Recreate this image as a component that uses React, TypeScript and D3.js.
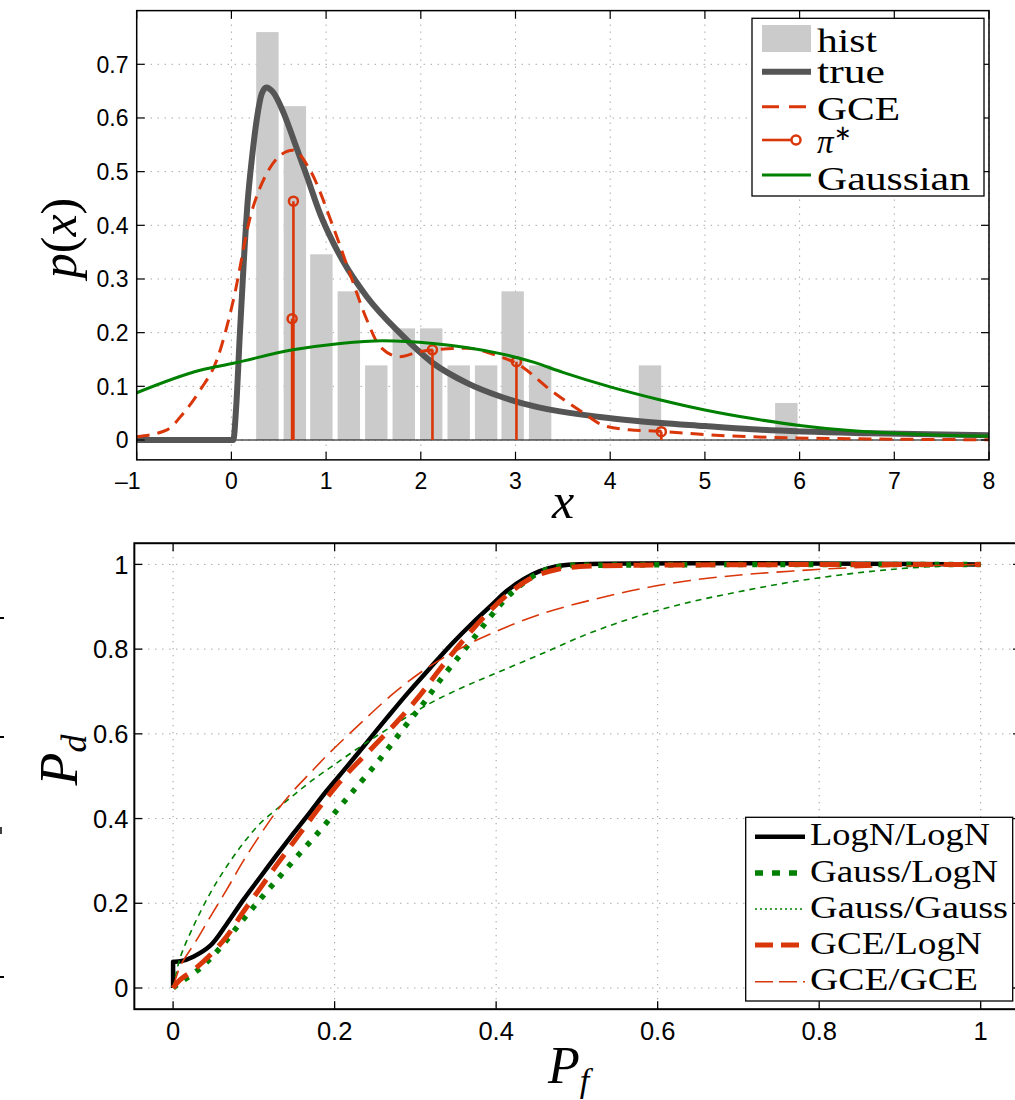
import React from 'react';
import * as d3 from 'd3';

// ---------- Top panel data ----------
const xTicksTop = [-1, 0, 1, 2, 3, 4, 5, 6, 7, 8];
const yTicksTop = [0, 0.1, 0.2, 0.3, 0.4, 0.5, 0.6, 0.7];
const histCenters = [0.38, 0.67, 0.95, 1.24, 1.53, 1.82, 2.11, 2.40, 2.69, 2.97, 3.26, 3.55, 3.84, 4.13, 4.42, 4.70, 4.99, 5.28, 5.57, 5.86];
const histDensity = [0.76, 0.622, 0.346, 0.277, 0.139, 0.208, 0.208, 0.139, 0.139, 0.277, 0.139, 0, 0, 0, 0.139, 0, 0, 0, 0, 0.069];
const histBinWidth = 0.2886;

const trueCurve: [number, number][] = [
  [-1, 0], [0.02, 0], [0.05, 0.06], [0.09, 0.2], [0.13, 0.33], [0.17, 0.44], [0.22, 0.53],
  [0.27, 0.6], [0.32, 0.645], [0.37, 0.657], [0.44, 0.648], [0.55, 0.61], [0.66, 0.558],
  [0.8, 0.49], [0.94, 0.42], [1.08, 0.366], [1.18, 0.333], [1.43, 0.267], [1.78, 0.199],
  [2.13, 0.143], [2.49, 0.106], [2.84, 0.081], [3.19, 0.063], [3.89, 0.043], [4.26, 0.036],
  [5.0, 0.026], [5.5, 0.02], [6.74, 0.0125], [8.0, 0.009],
];
const gceCurve: [number, number][] = [
  [-1, 0.006], [-0.68, 0.019], [-0.507, 0.05], [-0.33, 0.093], [-0.154, 0.149], [0.02, 0.26],
  [0.2, 0.416], [0.374, 0.497], [0.5, 0.528], [0.65, 0.54], [0.83, 0.503], [1.075, 0.397],
  [1.25, 0.311], [1.43, 0.224], [1.57, 0.174], [1.78, 0.155], [1.99, 0.165], [2.13, 0.168],
  [2.49, 0.171], [2.84, 0.155], [3.01, 0.143], [3.37, 0.093], [3.72, 0.05], [3.93, 0.027],
  [4.2, 0.019], [4.55, 0.016], [5.0, 0.01], [5.5, 0.006], [6.74, 0.002], [8, 0.0005],
];
const gaussCurve: [number, number][] = [
  [-1, 0.088], [-0.33, 0.13], [0.02, 0.143], [0.65, 0.168], [1.15, 0.18], [1.6, 0.185],
  [2.13, 0.18], [2.84, 0.161], [3.19, 0.145], [3.5, 0.126], [4.0, 0.099], [4.5, 0.076],
  [5.0, 0.056], [5.5, 0.04], [6.0, 0.027], [6.5, 0.018], [7.0, 0.0125], [7.5, 0.009], [8.0, 0.0075],
];
const piStems: [number, number][] = [
  [0.655, 0.445], [0.641, 0.226], [2.123, 0.168], [3.01, 0.146], [4.54, 0.0155],
];
const topLegend = ['hist', 'true', 'GCE', 'π*', 'Gaussian'];

// ---------- Bottom panel data ----------
const ticksBot = [0, 0.2, 0.4, 0.6, 0.8, 1];
const rocLogNLogN: [number, number][] = [
  [0, 0], [0, 0.062], [0.009, 0.063], [0.025, 0.074], [0.046, 0.1], [0.066, 0.15], [0.087, 0.208],
  [0.108, 0.262], [0.128, 0.313], [0.149, 0.365], [0.17, 0.416], [0.19, 0.465], [0.215, 0.522],
  [0.24, 0.58], [0.2645, 0.637], [0.29, 0.695], [0.318, 0.755], [0.345, 0.812], [0.372, 0.864],
  [0.395, 0.905], [0.413, 0.937], [0.435, 0.966], [0.454, 0.984], [0.475, 0.996], [0.496, 1.0], [1, 1],
];
const rocGaussLogN: [number, number][] = [
  [0, 0], [0.0045, 0.007], [0.033, 0.046], [0.058, 0.094], [0.083, 0.153], [0.108, 0.21],
  [0.132, 0.263], [0.157, 0.318], [0.182, 0.372], [0.203, 0.42], [0.223, 0.465], [0.256, 0.54],
  [0.289, 0.622], [0.31, 0.672], [0.33, 0.725], [0.355, 0.785], [0.376, 0.835], [0.396, 0.884],
  [0.421, 0.936], [0.454, 0.981], [0.479, 0.995], [0.53, 0.998], [1, 1],
];
const rocGaussGauss: [number, number][] = [
  [0, 0], [0.0085, 0.07], [0.025, 0.145], [0.046, 0.224], [0.066, 0.286], [0.087, 0.342],
  [0.108, 0.389], [0.128, 0.422], [0.149, 0.455], [0.17, 0.487], [0.198, 0.525], [0.236, 0.575],
  [0.277, 0.625], [0.318, 0.672], [0.359, 0.71], [0.392, 0.737], [0.454, 0.787], [0.516, 0.838],
  [0.578, 0.879], [0.64, 0.911], [0.702, 0.936], [0.764, 0.958], [0.826, 0.975], [0.888, 0.988],
  [0.95, 0.996], [1, 1],
];
const rocGCELogN: [number, number][] = [
  [0, 0], [0.0085, 0.019], [0.025, 0.042], [0.046, 0.078], [0.066, 0.121], [0.087, 0.18],
  [0.108, 0.236], [0.128, 0.29], [0.149, 0.344], [0.17, 0.398], [0.19, 0.448], [0.215, 0.505],
  [0.244, 0.562], [0.277, 0.628], [0.306, 0.692], [0.33, 0.752], [0.359, 0.82], [0.384, 0.874],
  [0.413, 0.927], [0.446, 0.97], [0.475, 0.988], [0.504, 0.995], [0.578, 0.998], [1, 1],
];
const rocGCEGCE: [number, number][] = [
  [0, 0], [0.0085, 0.05], [0.029, 0.113], [0.046, 0.168], [0.066, 0.231], [0.087, 0.3],
  [0.108, 0.362], [0.128, 0.417], [0.149, 0.466], [0.17, 0.508], [0.19, 0.548], [0.236, 0.632],
  [0.277, 0.702], [0.318, 0.76], [0.359, 0.805], [0.392, 0.835], [0.454, 0.882], [0.516, 0.915],
  [0.578, 0.942], [0.64, 0.962], [0.702, 0.975], [0.764, 0.984], [0.826, 0.991], [0.888, 0.995],
  [0.95, 0.998], [1, 1],
];
const botLegend = ['LogN/LogN', 'Gauss/LogN', 'Gauss/Gauss', 'GCE/LogN', 'GCE/GCE'];

// ---------- styles ----------
const RED = '#d9360a';
const GREEN = '#008000';
const GRAY = '#555555';
const HIST = '#cbcbcb';
const SANS = '"Liberation Sans", Arial, Helvetica, sans-serif';
const SERIF = '"Liberation Serif", "Times New Roman", serif';

export default function App() {
  const xT = d3.scaleLinear().domain([-1, 8]).range([136.7, 989]);
  const yT = d3.scaleLinear().domain([0, 0.7]).range([440, 64.3]);
  const tL = xT(-1), tR = xT(8), tTop = yT(0.8), tBot = yT(-0.037);

  const xB = d3.scaleLinear().domain([0, 1]).range([173.1, 980.7]);
  const yB = d3.scaleLinear().domain([0, 1]).range([988, 564.4]);
  const bL = xB(-0.048), bR = xB(1.05), bTop = yB(1.05), bBot = yB(-0.05);

  const lineT = d3.line<[number, number]>().x(d => xT(d[0])).y(d => yT(d[1])).curve(d3.curveMonotoneX);
  const lineB = d3.line<[number, number]>().x(d => xB(d[0])).y(d => yB(d[1])).curve(d3.curveCatmullRom.alpha(0.5));

  const rocPath = (data: [number, number][]) => {
    if (data.length > 2 && data[0][0] === data[1][0]) {
      const rest = lineB(data.slice(1)) || '';
      return `M${xB(data[0][0])},${yB(data[0][1])}L${rest.slice(1)}`;
    }
    return lineB(data) || '';
  };

  const tick = 8;
  const barW = (xT(histBinWidth) - xT(0)) * 0.82;

  const rocSeries = [
    { data: rocLogNLogN, color: '#000', w: 4.5, dash: undefined as string | undefined, legDash: undefined as string | undefined, legW: 4.5 },
    { data: rocGaussLogN, color: GREEN, w: 5.5, dash: '5,9', legDash: '8,9', legW: 5.5 },
    { data: rocGaussGauss, color: GREEN, w: 1.6, dash: '6,5', legDash: '2,3', legW: 1.6 },
    { data: rocGCELogN, color: RED, w: 5, dash: '20,11', legDash: '18,8', legW: 5 },
    { data: rocGCEGCE, color: RED, w: 1.6, dash: '18,8', legDash: '18,6', legW: 1.6 },
  ];
  const botLegendWidths = [180, 188, 198, 172, 168];
  const botRowY = [836.7, 873, 909, 945, 981.7];
  const botBase = [845, 881.7, 918, 953.5, 990];

  return (
    <svg width={1015} height={1100} style={{ position: 'absolute', left: 0, top: 0, background: '#fff' }}
      xmlns="http://www.w3.org/2000/svg">
      <defs>
        <clipPath id="clipT"><rect x={tL} y={tTop} width={tR - tL} height={tBot - tTop} /></clipPath>
        <clipPath id="clipB"><rect x={bL} y={bTop} width={bR - bL} height={bBot - bTop} /></clipPath>
      </defs>
      <rect x={0} y={0} width={1015} height={1100} fill="#fff" />

      {/* ================= TOP PANEL ================= */}
      <g>
        {xTicksTop.map(t => (
          <line key={'gx' + t} x1={xT(t)} x2={xT(t)} y1={tTop} y2={tBot} stroke="#808080" strokeWidth={1} strokeDasharray="1,6" />
        ))}
        {yTicksTop.map(t => (
          <line key={'gy' + t} x1={tL} x2={tR} y1={yT(t)} y2={yT(t)} stroke="#808080" strokeWidth={1} strokeDasharray="1,6" />
        ))}
        <g clipPath="url(#clipT)">
          {histDensity.map((v, i) => v > 0 ? (
            <rect key={'h' + i} x={xT(histCenters[i]) - barW / 2} y={yT(v)} width={barW} height={yT(0) - yT(v)} fill={HIST} />
          ) : null)}
          <line x1={tL} x2={tR} y1={yT(0)} y2={yT(0)} stroke="#000" strokeWidth={1} />
          <path d={lineT(trueCurve) || ''} fill="none" stroke={GRAY} strokeWidth={6} strokeLinejoin="round" strokeLinecap="round" />
          <path d={lineT(gceCurve) || ''} fill="none" stroke={RED} strokeWidth={3} strokeDasharray="13,8" />
          {piStems.map((s, i) => (
            <g key={'s' + i}>
              <line x1={xT(s[0])} x2={xT(s[0])} y1={yT(0)} y2={yT(s[1])} stroke={RED} strokeWidth={2.6} />
              <circle cx={xT(s[0])} cy={yT(s[1])} r={4.5} fill="none" stroke={RED} strokeWidth={2.5} />
            </g>
          ))}
          <path d={lineT(gaussCurve) || ''} fill="none" stroke={GREEN} strokeWidth={3} />
        </g>
        <rect x={tL} y={tTop} width={tR - tL} height={tBot - tTop} fill="none" stroke="#000" strokeWidth={1.5} />
        {xTicksTop.map(t => (
          <g key={'tx' + t}>
            <line x1={xT(t)} x2={xT(t)} y1={tBot} y2={tBot - tick} stroke="#000" strokeWidth={1.2} />
            <line x1={xT(t)} x2={xT(t)} y1={tTop} y2={tTop + tick} stroke="#000" strokeWidth={1.2} />
            <text x={xT(t) + (t < 0 ? -9 : 0)} y={488.5} textAnchor="middle" fontFamily={SANS} fontSize={23} fill="#000">
              {t < 0 ? '–' + Math.abs(t) : String(t)}
            </text>
          </g>
        ))}
        {yTicksTop.map(t => (
          <g key={'ty' + t}>
            <line x1={tL} x2={tL + tick} y1={yT(t)} y2={yT(t)} stroke="#000" strokeWidth={1.2} />
            <line x1={tR} x2={tR - tick} y1={yT(t)} y2={yT(t)} stroke="#000" strokeWidth={1.2} />
            <text x={128.5} y={yT(t)} dy="0.36em" textAnchor="end" fontFamily={SANS} fontSize={23} fill="#000">
              {t === 0 ? '0' : d3.format('.1f')(t)}
            </text>
          </g>
        ))}
        <text transform="translate(76,238) rotate(-90)" textAnchor="middle" fontFamily={SERIF} fontSize={50} fill="#000">
          <tspan fontStyle="italic">p</tspan><tspan>(</tspan><tspan fontStyle="italic">x</tspan><tspan>)</tspan>
        </text>
        <text x={563} y={518} textAnchor="middle" fontFamily={SERIF} fontStyle="italic" fontSize={50} fill="#000">x</text>

        {/* legend */}
        <rect x={752} y={18.3} width={232} height={177.7} fill="#fff" stroke="#000" strokeWidth={1.3} />
        <rect x={762} y={25} width={49} height={27} fill={HIST} />
        <line x1={762} x2={811} y1={71.7} y2={71.7} stroke={GRAY} strokeWidth={6} />
        <line x1={762} x2={811} y1={106.7} y2={106.7} stroke={RED} strokeWidth={3} strokeDasharray="17,10" />
        <line x1={762} x2={793} y1={140} y2={140} stroke={RED} strokeWidth={2.6} />
        <circle cx={796} cy={140} r={4.5} fill="#fff" stroke={RED} strokeWidth={2.5} />
        <line x1={762} x2={811} y1={175} y2={175} stroke={GREEN} strokeWidth={3} />
        <g fontFamily={SERIF} fontSize={33} fill="#000">
          <text x={817} y={51.7} textLength={60} lengthAdjust="spacingAndGlyphs">{topLegend[0]}</text>
          <text x={817} y={83.3} textLength={68} lengthAdjust="spacingAndGlyphs">{topLegend[1]}</text>
          <text x={817} y={120} textLength={83} lengthAdjust="spacingAndGlyphs">{topLegend[2]}</text>
          <text x={817} y={153.3}>
            <tspan fontStyle="italic">π</tspan><tspan fontSize={21} dy={-13}>∗</tspan>
          </text>
          <text x={817} y={190} textLength={153} lengthAdjust="spacingAndGlyphs">{topLegend[4]}</text>
        </g>
      </g>

      {/* ================= BOTTOM PANEL ================= */}
      <g>
        {ticksBot.map(t => (
          <g key={'bg' + t}>
            <line x1={xB(t)} x2={xB(t)} y1={bTop} y2={bBot} stroke="#808080" strokeWidth={1} strokeDasharray="1,6" />
            <line x1={bL} x2={bR} y1={yB(t)} y2={yB(t)} stroke="#808080" strokeWidth={1} strokeDasharray="1,6" />
          </g>
        ))}
        <g clipPath="url(#clipB)">
          {rocSeries.map((s, i) => (
            <path key={'r' + i} d={rocPath(s.data)} fill="none" stroke={s.color} strokeWidth={s.w}
              strokeDasharray={s.dash} strokeLinejoin="round" />
          ))}
        </g>
        <rect x={bL} y={bTop} width={bR - bL} height={bBot - bTop} fill="none" stroke="#000" strokeWidth={2} />
        {ticksBot.map(t => (
          <g key={'bt' + t}>
            <line x1={xB(t)} x2={xB(t)} y1={bBot} y2={bBot - tick} stroke="#000" strokeWidth={1.3} />
            <line x1={xB(t)} x2={xB(t)} y1={bTop} y2={bTop + tick} stroke="#000" strokeWidth={1.3} />
            <line x1={bL} x2={bL + tick} y1={yB(t)} y2={yB(t)} stroke="#000" strokeWidth={1.3} />
            <line x1={bR} x2={bR - tick} y1={yB(t)} y2={yB(t)} stroke="#000" strokeWidth={1.3} />
            <text x={xB(t)} y={1040} textAnchor="middle" fontFamily={SANS} fontSize={25.5} fill="#000">
              {t === 0 || t === 1 ? String(t) : d3.format('.1f')(t)}
            </text>
            <text x={128.5} y={yB(t)} dy="0.36em" textAnchor="end" fontFamily={SANS} fontSize={25.5} fill="#000">
              {t === 0 || t === 1 ? String(t) : d3.format('.1f')(t)}
            </text>
          </g>
        ))}
        <text transform="translate(77,760) rotate(-90)" textAnchor="middle" fontFamily={SERIF} fontSize={54} fill="#000">
          <tspan fontStyle="italic">P</tspan><tspan fontStyle="italic" fontSize={36} dy={9}>d</tspan>
        </text>
        <text x={548} y={1083} fontFamily={SERIF} fontSize={52} fill="#000">
          <tspan fontStyle="italic">P</tspan><tspan fontStyle="italic" fontSize={34} dy={9}>f</tspan>
        </text>

        {/* legend */}
        <rect x={745.7} y={817.3} width={267} height={183.7} fill="#fff" stroke="#000" strokeWidth={1.3} />
        {rocSeries.map((s, i) => (
          <g key={'bl' + i}>
            <line x1={755} x2={805} y1={botRowY[i]} y2={botRowY[i]} stroke={s.color} strokeWidth={s.legW} strokeDasharray={s.legDash} />
            <text x={810} y={botBase[i]} fontFamily={SERIF} fontSize={31} fill="#000"
              textLength={botLegendWidths[i]} lengthAdjust="spacingAndGlyphs">{botLegend[i]}</text>
          </g>
        ))}

        {/* stray marks at the left edge of the original figure */}
        <line x1={0} x2={4} y1={618} y2={618} stroke="#000" strokeWidth={2} />
        <line x1={0} x2={4} y1={737} y2={737} stroke="#000" strokeWidth={2} />
        <line x1={1} x2={1} y1={827} y2={834} stroke="#000" strokeWidth={1.5} />
        <line x1={0} x2={4} y1={977} y2={977} stroke="#000" strokeWidth={2} />
      </g>
    </svg>
  );
}
